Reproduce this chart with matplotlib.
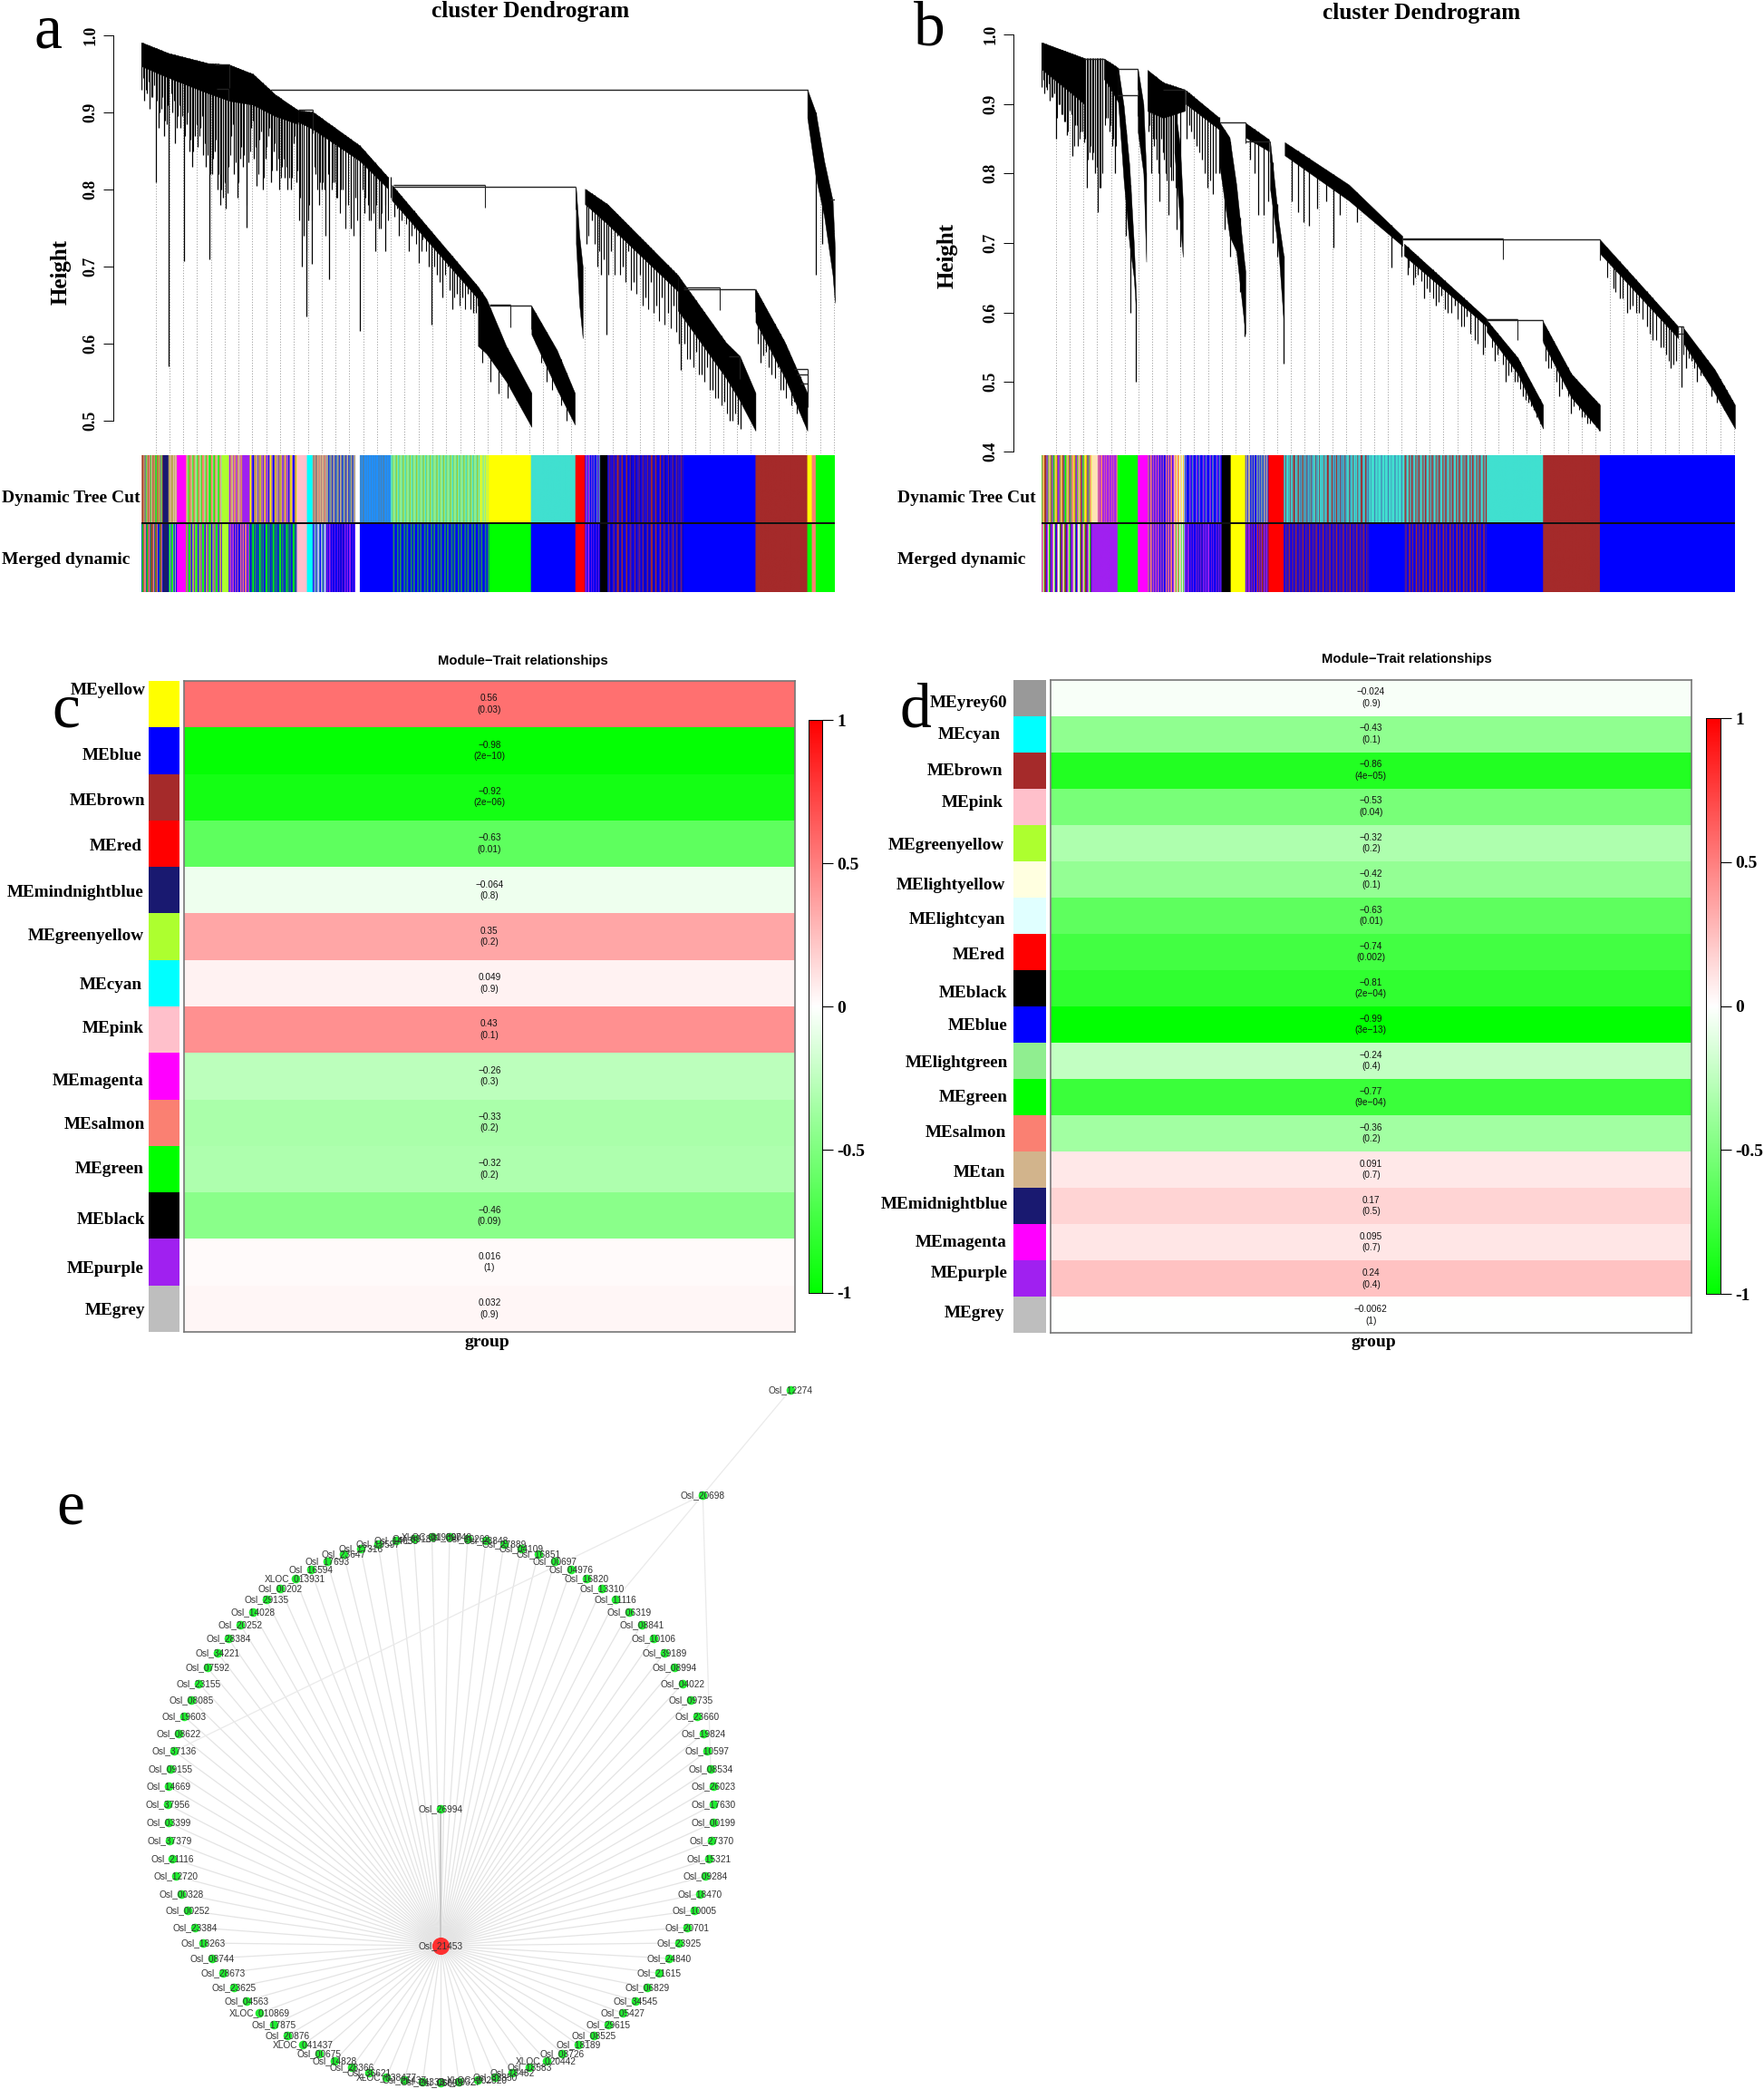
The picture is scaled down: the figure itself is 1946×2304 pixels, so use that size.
import numpy as np
import matplotlib
matplotlib.use("Agg")
import matplotlib.pyplot as plt
from matplotlib.colors import LinearSegmentedColormap, to_rgb

W, H = 1946, 2304
SERIF = "Liberation Serif"
SANS = "Liberation Sans"
fig = plt.figure(figsize=(W / 100, H / 100), dpi=100)

nan = np.nan
# ---------- panel a dendrogram (leaf position, height) ----------
a_body_x = [0, 48, 118, 156, 198, 238, 278, nan, 278, 305, 388, 438, nan, 445, 598, nan, 598, 613, 648, 693, nan,
            693, 738, 770, nan, 772, 778, 784, nan, 788, 828, 953, nan, 953, 1038, 1063, 1091, nan,
            1091, 1143, 1183, nan, 1183, 1198, 1213, 1228, 1232]
a_body_top = [.991, .977, .964, .962, .95, .923, .903, nan, .903, .9005, .857, .816, nan, .806, .674, nan, .674, .658, .597, .536, nan,
              .649, .592, .536, nan, .802, .74, .70, nan, .801, .781, .689, nan, .689, .602, .584, .536, nan,
              .671, .602, .536, nan, .930, .900, .837, .786, .724]
a_body_low = [.96, .945, .925, .915, .91, .895, .885, nan, .888, .878, .837, .801, nan, .786, .658, nan, .597, .587, .551, .492, nan,
              .612, .541, .495, nan, .73, .65, .607, nan, .781, .755, .668, nan, .643, .556, .526, .487, nan,
              .628, .556, .487, nan, .893, .816, .765, .689, .653]
a_spikes = [(0, .93), (5, .915), (10, .925), (15, .905), (20, .92), (25, .809), (30, .88), (35, .905), (40, .87), (45, .885),
            (49, .571), (55, .90), (60, .86), (65, .895), (70, .88), (75, .707), (80, .885), (85, .85), (90, .83), (95, .87),
            (100, .855), (105, .88), (110, .845), (115, .83), (121, .71), (125, .82), (130, .85), (135, .80), (140, .78), (145, .79),
            (150, .775), (155, .83), (160, .87), (165, .82), (170, .79), (175, .84), (180, .83), (187, .751), (190, .835), (195, .88),
            (200, .84), (205, .805), (210, .865), (215, .80), (220, .84), (225, .87), (230, .81), (235, .85), (240, .825), (245, .80),
            (250, .83), (255, .815), (260, .80), (265, .80), (270, .86), (275, .81), (280, .76), (285, .70), (293, .635), (297, .76),
            (303, .704), (309, .82), (315, .78), (320, .80), (326, .80), (333, .684), (340, .81), (347, .79), (355, .80), (363, .78),
            (372, .75), (380, .79), (388, .617), (396, .77), (405, .76), (415, .72), (425, .75), (433, .72),
            (450, .765), (458, .74), (466, .77), (475, .72), (484, .75), (493, .705), (500, .735), (510, .70), (515, .625), (525, .69),
            (535, .66), (545, .70), (552, .645), (560, .665), (570, .66), (580, .665), (590, .64), (598, .65),
            (790, .73), (800, .76), (810, .70), (817, .69), (826, .612), (835, .72), (845, .74), (855, .70), (865, .72), (875, .68),
            (885, .69), (895, .66), (905, .68), (915, .65), (925, .66), (935, .64), (945, .65), (955, .60), (958, .566),
            (965, .60), (975, .58), (985, .59), (995, .56), (1005, .57), (1015, .54), (1025, .53), (1035, .525), (1045, .50),
            (1055, .51), (1065, .49), (1100, .575), (1110, .59), (1120, .56), (1130, .57), (1140, .54), (1150, .55), (1160, .525),
            (1170, .535), (1198, .69), (1210, .73)]
a_fine_low = [.945, .93, .94, .92, .935, .915, .90, .92, .89, .91, .925, .915, .88, .91, .895, .87, .90, .865, .85, .885,
              .87, .895, .86, .845, .82, .84, .865, .82, .80, .81, .795, .845, .885, .835, .81, .855, .845, .78, .85, .89,
              .855, .82, .875, .815, .855, .88, .825, .86, .84, .815, .84, .83, .815, .815, .87, .825, .79, .74, .72, .78,
              .76, .83, .80, .81, .81, .74, .82, .80, .81, .79, .77, .80, .75, .78, .77, .74, .76, .74, .80, .79,
              .78, .76, .77, .78, .75, .77, .78, .76, .79]
a_fringe = [(454, .775), (462, .76), (470, .755), (480, .74), (488, .73), (497, .72), (505, .72), (520, .70), (530, .68), (540, .69),
            (548, .67), (556, .66), (565, .65), (575, .645), (585, .645), (594, .64), (605, .575), (620, .55), (635, .535), (650, .53),
            (700, .60), (710, .575), (720, .55), (730, .54), (745, .52), (755, .50),
            (794, .74), (805, .73), (814, .72), (822, .71), (830, .69), (840, .69), (850, .69), (860, .68), (870, .67), (880, .665),
            (890, .65), (900, .645), (910, .64), (920, .63), (930, .625), (940, .62), (950, .615), (970, .58), (980, .57), (990, .56),
            (1000, .55), (1010, .54), (1020, .53), (1030, .52), (1040, .51), (1050, .50), (1060, .495), (1095, .60), (1105, .585), (1115, .57),
            (1125, .555), (1135, .54), (1145, .53), (1155, .52), (1165, .51), (1175, .50)]
a_branch_x0 = [228, 278, 448, 448, 618, 618, 963, 963, 1043, 1160, 1165, 1170, 130, 133, 1224]
a_branch_x1 = [1183, 305, 772, 610, 693, 655, 1091, 1028, 1063, 1183, 1183, 1183, 156, 155, 1232]
a_branch_h = [.930, .903, .804, .806, .649, .651, .671, .673, .584, .567, .560, .548, .962, .931, .787]

# ---------- panel b dendrogram ----------
b_body_x = [0, 46, 76, nan, 111, 136, nan, 136, 146, 156, 164, 168, nan, 171, 181, 186, nan, 188, 216, 254, nan,
            236, 246, 251, nan, 256, 316, nan, 316, 334, 346, 362, nan, 362, 404, nan, 406, 421, 430, nan,
            432, 546, 641, nan, 644, 791, nan, 791, 846, 891, nan, 891, 941, 992, nan, 992, 1131, nan, 1141, 1196, 1232]
b_body_top = [.9887, .975, .966, nan, .965, .952, nan, .952, .897, .812, .699, .62, nan, .951, .90, .80, nan, .949, .931, .921, nan,
              .90, .84, .76, nan, .92, .88, nan, .874, .852, .784, .659, nan, .873, .849, nan, .846, .733, .682, nan,
              .845, .784, .71, nan, .699, .591, nan, .589, .535, .467, nan, .587, .512, .467, nan, .705, .58, nan, .577, .518, .467]
b_body_low = [.95, .92, .90, nan, .937, .903, nan, .903, .789, .699, .65, .60, nan, .86, .80, .673, nan, .89, .88, .89, nan,
              .83, .73, .68, nan, .90, .863, nan, .812, .71, .688, .569, nan, .852, .832, nan, .778, .688, .586, nan,
              .826, .761, .696, nan, .682, .58, nan, .572, .512, .433, nan, .557, .478, .43, nan, .685, .563, nan, .555, .484, .433]
b_spikes = [(0, .925), (5, .915), (10, .92), (15, .905), (20, .91), (26, .85), (30, .90), (35, .885), (40, .875), (45, .855),
            (50, .89), (55, .825), (60, .87), (65, .84), (70, .86), (75, .845), (80, .78), (85, .83), (90, .82), (95, .80),
            (100, .745), (105, .78), (115, .88), (120, .86), (125, .84), (130, .80), (150, .71), (158, .60), (168, .501),
            (190, .86), (195, .80), (200, .84), (205, .82), (210, .76), (215, .83), (220, .80), (225, .74), (230, .79), (240, .72),
            (247, .695), (258, .85), (265, .86), (275, .84), (285, .82), (295, .78), (305, .77), (315, .80), (325, .72), (335, .68),
            (352, .63), (361, .566), (370, .82), (378, .80), (385, .74), (395, .74), (403, .76), (410, .70), (418, .68), (430, .526),
            (445, .76), (455, .745), (465, .73), (475, .725), (490, .75), (505, .76), (518, .693), (530, .74), (560, .73), (621, .665), (640, .68),
            (650, .655), (660, .64), (668, .655), (680, .62), (690, .63), (700, .61), (710, .625), (722, .60), (735, .61), (745, .58),
            (755, .595), (770, .56), (785, .54), (795, .575), (805, .53), (815, .55), (825, .50), (835, .515), (845, .50), (855, .48),
            (865, .47), (875, .46), (885, .44), (900, .52), (910, .54), (920, .48), (930, .50), (940, .455), (950, .47), (960, .45),
            (970, .44), (980, .44), (990, .43), (1016, .635), (1027, .62), (1040, .60), (1050, .61), (1062, .60), (1075, .58), (1085, .56),
            (1100, .55), (1110, .54), (1118, .52), (1128, .53), (1137, .492), (1145, .52), (1155, .53), (1165, .50), (1176, .51),
            (1190, .48), (1200, .47), (1212, .46), (1222, .45)]
b_fine_low = [.935, .925, .93, .91, .915, .88, .90, .885, .875, .86, .885, .84, .87, .85, .86, .85, .82, .84, .83, .81,
              .78, .80, .87, .88, .87, .85, .84]
b_fringe = [(192, .87), (198, .85), (203, .85), (208, .80), (213, .85), (218, .82), (223, .79), (228, .81), (233, .79), (238, .78),
            (262, .87), (270, .85), (280, .83), (290, .80), (300, .79), (310, .80),
            (652, .665), (664, .65), (674, .645), (685, .635), (695, .62), (705, .615), (716, .605), (728, .60), (740, .59), (750, .58),
            (762, .57), (775, .555), (788, .55), (800, .55), (810, .54), (820, .525), (830, .51), (840, .50), (850, .49), (860, .475),
            (870, .465), (880, .45), (896, .53), (905, .52), (915, .50), (925, .49), (935, .48), (945, .465), (955, .46), (965, .45),
            (975, .44), (985, .435), (1005, .65), (1020, .63), (1033, .62), (1045, .605), (1056, .60), (1068, .59), (1080, .57), (1092, .56),
            (1105, .55), (1114, .53), (1123, .525), (1150, .535), (1160, .52), (1170, .51), (1183, .50), (1195, .49), (1206, .475), (1217, .46),
            (1227, .45)]
b_branch_x0 = [76, 136, 136, 216, 316, 362, 641, 641, 791, 791, 1131, 1131]
b_branch_x1 = [111, 171, 170, 254, 362, 406, 992, 820, 891, 845, 1141, 1141]
b_branch_h = [.965, .951, .9125, .921, .874, .846, .705, .707, .589, .591, .58, .57]

# ---------- colour strips: zone ends and zone colours ----------
Y, SA, TN, BR, GN, BL, PU, GR, TQ, OL = "yellow", "salmon", "tan", "brown", "lime", "blue", "#A020F0", "gray", "turquoise", "#B0A040"
LG, ST, DB, MB, IN = "lightgreen", "steelblue", "dodgerblue", "mediumblue", "#3010C0"

a_dyn_end = [38, 48, 63, 79, 143, 155, 179, 192, 276, 294, 304, 328, 380, 388, 443, 601, 618, 692, 771, 788, 815, 828, 963, 1091, 1183, 1191, 1198, 1232]
a_dyn_col = [(TN, BR, OL, SA, GR, GN), ("midnightblue",), (TN, OL, "pink"), ("magenta",), (SA, TN, LG, GN, OL), ("greenyellow",),
             (TN, PU, SA, OL), (PU,), (OL, Y, PU, TN, BL, SA), ("pink",), ("cyan",), (TN, GR, SA), (ST, TN, GR, BL), ("white",),
             (DB, ST, DB), (LG, TQ, "yellowgreen", LG), (LG, Y), (Y,), (TQ,), ("red",), (BL, PU, ST), ("black",), (BL, IN, BR, MB, IN), (BL,), (BR,), (Y,), (SA,), (GN,)]
a_mer_end = [38, 48, 63, 79, 143, 155, 192, 276, 294, 304, 328, 380, 388, 446, 618, 692, 771, 788, 815, 828, 963, 1091, 1183, 1191, 1198, 1232]
a_mer_col = [(BL, GN, BR, GR, SA), ("midnightblue",), (BL, GN, "pink"), ("magenta",), (GN, SA, BL, TN), ("greenyellow",), (BL, PU, SA),
             (GN, BL, "seagreen", BL), ("pink",), ("cyan",), (ST, BL, "white", ST), (BL, PU, MB), ("white",), (BL,), (BL, "seagreen", "teal", BL), (GN,),
             (BL,), ("red",), (BL, PU, MB), ("black",), (BL, IN, BR, IN, MB), (BL,), (BR,), (GN,), (SA,), (GN,)]
b_dyn_end = [89, 100, 135, 171, 188, 236, 254, 320, 336, 362, 403, 430, 582, 644, 791, 891, 992, 1232]
b_dyn_col = [(GN, SA, TN, Y, BR, GR, PU), ("moccasin",), (PU, SA, PU), (GN,), ("magenta",), (PU, SA, BL), ("lightcyan", SA, Y),
             (BL, ST, PU, BL), ("black",), (Y,), (BL, TN, ST), ("red",), (ST, TQ, BR, ST, TQ), (TQ, TQ, ST, TQ), (TQ, BR, GR, ST), (TQ,), (BR,), (BL,)]
b_mer_end = [89, 135, 171, 188, 236, 254, 320, 336, 362, 403, 430, 582, 644, 791, 891, 992, 1232]
b_mer_col = [(PU, SA, "white", GN, BR, BL), (PU,), (GN,), ("magenta",), (PU, SA, BL), ("lightcyan", SA, GN), (BL, PU, IN), ("black",), (Y,),
             (BL, PU, BR), ("red",), (IN, BL, BR, IN), (BL,), (BL, IN, BR, IN), (BL,), (BR,), (BL,)]

# ---------- panel c ----------
c_names = ["MEyellow", "MEblue", "MEbrown", "MEred", "MEmindnightblue", "MEgreenyellow", "MEcyan", "MEpink", "MEmagenta", "MEsalmon",
           "MEgreen", "MEblack", "MEpurple", "MEgrey"]
c_colors = ["yellow", "blue", "brown", "red", "midnightblue", "greenyellow", "cyan", "pink", "magenta", "salmon", "lime", "black", "#A020F0", "#BEBEBE"]
c_r = ["0.56", "−0.98", "−0.92", "−0.63", "−0.064", "0.35", "0.049", "0.43", "−0.26", "−0.33", "−0.32", "−0.46", "0.016", "0.032"]
c_p = ["(0.03)", "(2e−10)", "(2e−06)", "(0.01)", "(0.8)", "(0.2)", "(0.9)", "(0.1)", "(0.3)", "(0.2)", "(0.2)", "(0.09)", "(1)", "(0.9)"]
c_label_right = [258, 252, 258, 252, 256, 256, 252, 255, 255, 257, 256, 258, 255, 258]
c_label_y = [120, 262, 360, 458, 558, 652, 757, 852, 966, 1060, 1155, 1265, 1372, 1462]

# ---------- panel d ----------
d_names = ["MEyrey60", "MEcyan", "MEbrown", "MEpink", "MEgreenyellow", "MElightyellow", "MElightcyan", "MEred", "MEblack", "MEblue",
           "MElightgreen", "MEgreen", "MEsalmon", "MEtan", "MEmidnightblue", "MEmagenta", "MEpurple", "MEgrey"]
d_colors = ["#999999", "cyan", "brown", "pink", "greenyellow", "lightyellow", "lightcyan", "red", "black", "blue", "lightgreen", "lime",
            "salmon", "tan", "midnightblue", "magenta", "#A020F0", "#BEBEBE"]
d_r = ["−0.024", "−0.43", "−0.86", "−0.53", "−0.32", "−0.42", "−0.63", "−0.74", "−0.81", "−0.99", "−0.24", "−0.77", "−0.36", "0.091", "0.17",
       "0.095", "0.24", "−0.0062"]
d_p = ["(0.9)", "(0.1)", "(4e−05)", "(0.04)", "(0.2)", "(0.1)", "(0.01)", "(0.002)", "(2e−04)", "(3e−13)", "(0.4)", "(9e−04)", "(0.2)", "(0.7)",
       "(0.5)", "(0.7)", "(0.4)", "(1)"]
d_label_right = [223, 211, 215, 215, 217, 219, 219, 218, 222, 223, 224, 224, 221, 219, 223, 222, 223, 218]
d_label_y = [147, 217, 295, 363, 455, 541, 617, 692, 776, 845, 926, 1000, 1078, 1163, 1232, 1315, 1381, 1468]

cbar_ticks = [1, 0.5, 0, -0.5, -1]
cbar_labels = ["1", "0.5", "0", "-0.5", "-1"]

# ---------- panel e network (clockwise from the top of the ring) ----------
ring_names = ["Osl_26023", "Osl_17630", "Osl_00199", "Osl_27370", "Osl_15321", "Osl_09284", "Osl_18470", "Osl_10005", "Osl_20701", "Osl_23925",
              "Osl_24840", "Osl_21615", "Osl_06829", "Osl_34545", "Osl_05427", "Osl_29615", "Osl_08525", "Osl_18189", "Osl_08726", "XLOC_020442",
              "Osl_18583", "Osl_18482", "Osl_32850", "XLOC_002820", "Osl_09327", "Osl_05803", "Osl_24333", "Osl_26437", "XLOC_038477", "Osl_36621",
              "Osl_28366", "Osl_14828", "Osl_00675", "XLOC_041437", "Osl_20876", "Osl_17875", "XLOC_010869", "Osl_04563", "Osl_23625", "Osl_28673",
              "Osl_08744", "Osl_18263", "Osl_23384", "Osl_00252", "Osl_00328", "Osl_12720", "Osl_21116", "Osl_37379", "Osl_03399", "Osl_37956",
              "Osl_14669", "Osl_09155", "Osl_37136", "Osl_08622", "Osl_19603", "Osl_08085", "Osl_23155", "Osl_07592", "Osl_34221", "Osl_28384",
              "Osl_20252", "Osl_14028", "Osl_29135", "Osl_00202", "XLOC_013931", "Osl_16594", "Osl_17693", "Osl_23647", "Osl_17316", "Osl_19597",
              "Osl_14635", "Osl_09186", "XLOC_019300", "Osl_09748", "Osl_10262", "Osl_28848", "Osl_27889", "Osl_04109", "Osl_16851", "Osl_00697",
              "Osl_04976", "Osl_16820", "Osl_13310", "Osl_11116", "Osl_06319", "Osl_08841", "Osl_10106", "Osl_39189", "Osl_08994", "Osl_04022",
              "Osl_09735", "Osl_23660", "Osl_19824", "Osl_10597", "Osl_08534"]
ring_x = [786.7, 787.3, 787, 785.3, 782.3, 778.3, 772.3, 765.7, 757.7, 748.7,
          738.3, 727, 714.3, 701, 686.7, 671.3, 655.3, 638, 620.3, 602.7,
          583.7, 565, 546, 526.7, 506.3, 486.3, 466.3, 446, 426.3, 407,
          388, 369.3, 351.7, 334, 317.3, 301.7, 286, 271.7, 258, 245.7,
          234, 223.7, 214.7, 206.7, 200, 194.3, 190.3, 187, 185.7, 185.3,
          186, 188.3, 192, 197, 203, 210.7, 219.3, 228.7, 239.7, 251.7,
          265, 278.7, 293.7, 309.3, 325.7, 342.7, 360.7, 379, 397.7, 417,
          436.7, 456.7, 476.5, 496, 516, 536, 556, 574.7, 593.7, 612,
          630, 647, 663.7, 679, 694, 707.7, 721, 733, 743.7, 753.3,
          762, 769.3, 775.7, 780.3, 784]
ring_y = [1970.3, 1990.3, 2010.3, 2030.3, 2050, 2069.3, 2088.7, 2107, 2125.7, 2143,
          2160, 2176.3, 2192, 2206.7, 2220.3, 2233, 2244.7, 2255.3, 2264.7, 2273,
          2280.3, 2286.3, 2291, 2294, 2296.3, 2297, 2296.3, 2294, 2291, 2286.3,
          2280.3, 2273, 2264.7, 2255.3, 2244.7, 2233, 2220.3, 2206.7, 2192, 2176.3,
          2160, 2143, 2125.7, 2107, 2088.7, 2069.3, 2050, 2030.3, 2010.3, 1990.3,
          1970.3, 1951, 1931.3, 1912.3, 1893, 1874.7, 1856.7, 1839.3, 1822.7, 1806.7,
          1792, 1777.7, 1764.3, 1752.3, 1741, 1730.7, 1722, 1714.3, 1708, 1702.7,
          1699.3, 1696.7, 1695, 1695, 1696.7, 1699.3, 1702.7, 1708, 1714.3, 1722,
          1730.7, 1741, 1752.3, 1764.3, 1777.7, 1792, 1806.7, 1822.7, 1839.3, 1856.7,
          1874.7, 1893, 1912.3, 1931.3, 1951]
hub_name = "Osl_21453"
hub_xy = (486.3, 2146)
inner_name = "Osl_26994"
inner_xy = (486.3, 1995.3)
far_names = ["Osl_20698", "Osl_12274"]
far_x = [775.3, 872]
far_y = [1648.7, 1533]
extra_edges = ["Osl_37136", "Osl_11116", "Osl_08534"]

green_red = LinearSegmentedColormap.from_list("gr", ["#00FF00", "#FFFFFF", "#FF0000"], N=256)


def box(x0, y0, x1, y1):
    return fig.add_axes([x0 / W, 1 - y1 / H, (x1 - x0) / W, (y1 - y0) / H])


def T(x, y, s, **kw):
    kw.setdefault("ha", "center")
    kw.setdefault("va", "center")
    fig.text(x / W, 1 - y / H, s, **kw)


def split(xs, ys, zs):
    xs, ys, zs = map(np.array, (xs, ys, zs))
    cuts = np.where(np.isnan(xs))[0]
    return list(zip(np.split(xs, cuts), np.split(ys, cuts), np.split(zs, cuts)))


def dendrogram(x0, x1, y_top, y_bot, h_bot, body, spikes, fine_low, fringe, bx0, bx1, bh, tick_vals, spine_x):
    ax = box(x0, y_top, x1, y_bot)
    ax.set_xlim(0, 1232)
    ax.set_ylim(h_bot, 1.0)
    segs = []
    for xs, ts, ls in split(*body):
        m = ~np.isnan(xs)
        segs.append((xs[m], ts[m], ls[m]))

    def env(x):
        vals = [np.interp(x, s[0], s[1]) for s in segs if s[0][0] <= x <= s[0][-1]]
        if vals:
            return max(vals)
        prev = [s for s in segs if s[0][-1] < x]
        return prev[-1][1][-1]

    guides = np.arange(25, 1233, 24.6)
    ax.vlines(guides, h_bot, [env(g) for g in guides], color="#999999", lw=0.6, ls=(0, (1.5, 2)), zorder=1)
    for xs, ts, ls in segs:
        ax.fill_between(xs, ls, ts, color="black", lw=0.3, zorder=3)
    sx = [s[0] for s in spikes]
    sl = [s[1] for s in spikes]
    ax.vlines(sx, sl, [env(x) for x in sx], color="black", lw=0.9, zorder=2)
    fx = [2.5 + 5 * i for i in range(len(fine_low))] + [f[0] for f in fringe]
    fl = list(fine_low) + [f[1] for f in fringe]
    ax.vlines(fx, fl, [env(x) for x in fx], color="black", lw=0.8, zorder=2)
    ax.hlines(bh, bx0, bx1, color="#222222", lw=1.0, zorder=3)
    ax.vlines(bx1, np.array(bh) - 0.03, bh, color="#222222", lw=0.8, zorder=3)
    for k in ("top", "right", "bottom"):
        ax.spines[k].set_visible(False)
    ax.spines["left"].set_position(("outward", (x0 - spine_x) * 0.72))
    ax.spines["left"].set_bounds(tick_vals[0], tick_vals[-1])
    ax.spines["left"].set_linewidth(0.7)
    ax.set_xticks([])
    ax.set_yticks(tick_vals)
    ax.set_yticklabels([f"{v:.1f}" for v in tick_vals], rotation=90, va="center", family=SERIF, weight="bold", fontsize=13)
    ax.tick_params(axis="y", length=8, width=0.7, pad=4)
    ax.patch.set_alpha(0)


def strip(x0, x1, y0, y1, ends, cols):
    ax = box(x0, y0, x1, y1)
    widths = [1, 2, 1, 1, 3, 1, 2, 1]
    img = np.ones((1, 1232, 3))
    start = 0
    for end, pal in zip(ends, cols):
        pos, k = start, 0
        while pos < end:
            w = widths[k % len(widths)] if len(pal) > 1 else end - start
            img[0, pos:min(end, pos + w)] = to_rgb(pal[k % len(pal)])
            pos += w
            k += 1
        start = end
    ax.imshow(img, aspect="auto", extent=(0, 1232, 0, 1), interpolation="antialiased", interpolation_stage="rgba")
    ax.axis("off")


def heatmap(hx0, hx1, hy0, hy1, sx0, sx1, cx0, cx1, cy0, cy1, tx, ty, names, colors, r, p):
    n = len(names)
    vals = np.array([float(s.replace("−", "-")) for s in r])[:, None]
    ax = box(hx0, hy0, hx1, hy1)
    ax.pcolormesh([0, 1], np.arange(n + 1), vals, cmap=green_red, vmin=-1, vmax=1)
    ax.set_ylim(n, 0)
    ax.set_xticks([])
    ax.set_yticks([])
    for s in ax.spines.values():
        s.set_color("#777777")
        s.set_linewidth(1.2)
    for i in range(n):
        ax.text(0.5, i + 0.5, r[i] + "\n" + p[i], ha="center", va="center", family=SANS, fontsize=7.2,
                linespacing=1.3, color="#111111")
    st = box(sx0, hy0, sx1, hy1)
    st.barh(np.arange(n) + 0.5, 1, height=1, color=colors)
    st.set_xlim(0, 1)
    st.set_ylim(n, 0)
    st.axis("off")
    cb = box(cx0, cy0, cx1, cy1)
    cb.imshow(np.linspace(1, -1, 256)[:, None], aspect="auto", cmap=green_red, vmin=-1, vmax=1, extent=(0, 1, -1, 1))
    cb.set_xticks([])
    cb.yaxis.tick_right()
    cb.set_yticks(cbar_ticks)
    cb.set_yticklabels(cbar_labels, family=SERIF, weight="bold", fontsize=14)
    cb.tick_params(axis="y", length=8.5, width=0.8, pad=3)
    for s in cb.spines.values():
        s.set_linewidth(0.7)
    T(tx, ty, "Module−Trait relationships", family=SANS, weight="bold", fontsize=10.7)


ZX = 1.611
ZY = 1.96
# dendrograms
dendrogram(156, 921, 39, 500, .5 - 36 / 850, (a_body_x, a_body_top, a_body_low), a_spikes, a_fine_low, a_fringe,
           a_branch_x0, a_branch_x1, a_branch_h, [1.0, 0.9, 0.8, 0.7, 0.6, 0.5], 125)
dendrogram(1149, 1914, 38, 500, .4 - 2 / 767, (b_body_x, b_body_top, b_body_low), b_spikes, b_fine_low, b_fringe,
           b_branch_x0, b_branch_x1, b_branch_h, [1.0, 0.9, 0.8, 0.7, 0.6, 0.5, 0.4], 1118)
strip(156, 921, 502, 577, a_dyn_end, a_dyn_col)
strip(156, 921, 577, 653.5, a_mer_end, a_mer_col)
strip(1149, 1914, 502, 577, b_dyn_end, b_dyn_col)
strip(1149, 1914, 577, 653.5, b_mer_end, b_mer_col)
for x0, x1 in ((156, 921), (1149, 1914)):
    ln = box(x0, 576, x1, 578)
    ln.set_facecolor("#111111")
    ln.set_xticks([]); ln.set_yticks([])
    for s in ln.spines.values():
        s.set_visible(False)

for cx, cy in ((585, 12), (1568, 14)):
    T(cx, cy, "cluster Dendrogram", family=SERIF, weight="bold", fontsize=18.3)
T(67, 300, "Height", family=SERIF, weight="bold", fontsize=18, rotation=90)
T(1045, 282, "Height", family=SERIF, weight="bold", fontsize=18, rotation=90)
for lx in (2, 990):
    T(lx, 550, "Dynamic Tree Cut", family=SERIF, weight="bold", fontsize=14, ha="left")
    T(lx, 617, "Merged dynamic", family=SERIF, weight="bold", fontsize=14, ha="left")

# heatmaps
heatmap(203, 876.5, 751, 1469, 164, 197.5, 892, 907, 794.4, 1426, 577, 728.6, c_names, c_colors, c_r, c_p)
heatmap(1158.6, 1866, 749.5, 1470.4, 1117.6, 1153.6, 1881.7, 1898, 792.3, 1427, 1551.5, 726.5, d_names, d_colors, d_r, d_p)
for name, right, yy in zip(c_names, c_label_right, c_label_y):
    T(right / ZX, 700 + yy / ZY, name, ha="right", family=SERIF, weight="bold", fontsize=13.8)
for name, right, yy in zip(d_names, d_label_right, d_label_y):
    T(973 + right / ZX, 700 + yy / ZY, name, ha="right", family=SERIF, weight="bold", fontsize=13.8)
T(537.5, 1480.6, "group", family=SERIF, weight="bold", fontsize=14)
T(1515, 1480.6, "group", family=SERIF, weight="bold", fontsize=14)

# panel letters
for s, lx, ly in (("a", 53, 36), ("b", 1025, 33), ("c", 73, 785), ("d", 1010, 785), ("e", 78, 1664)):
    T(lx, ly, s, family=SERIF, fontsize=50)

# network
net = box(0, 1510, W, H)
net.set_xlim(0, W)
net.set_ylim(H, 1510)
net.axis("off")
net.patch.set_alpha(0)
for x, y in zip(ring_x + [inner_xy[0]], ring_y + [inner_xy[1]]):
    net.plot([hub_xy[0], x], [hub_xy[1], y], color="#E4E4E4", lw=0.9, zorder=1)
net.plot([hub_xy[0], inner_xy[0]], [hub_xy[1], inner_xy[1]], color="#C4C4C4", lw=1.2, zorder=1)
net.plot(far_x, far_y, color="#EAEAEA", lw=0.9, zorder=1)
for nm in extra_edges:
    i = ring_names.index(nm)
    net.plot([far_x[0], ring_x[i]], [far_y[0], ring_y[i]], color="#EAEAEA", lw=0.9, zorder=1)
all_x = ring_x + [inner_xy[0]] + far_x
all_y = ring_y + [inner_xy[1]] + far_y
all_n = ring_names + [inner_name] + far_names
net.scatter(all_x, all_y, s=48, color="#20EE30", lw=0, zorder=2)
net.scatter([hub_xy[0]], [hub_xy[1]], s=190, color="#FF3030", lw=0, zorder=2)
for nm, x, y in zip(all_n + [hub_name], all_x + [hub_xy[0]], all_y + [hub_xy[1]]):
    net.text(x, y, nm, ha="center", va="center", family=SANS, fontsize=7.3, color="#333333", zorder=3)

fig.savefig("out.png", dpi=100, facecolor="white")
